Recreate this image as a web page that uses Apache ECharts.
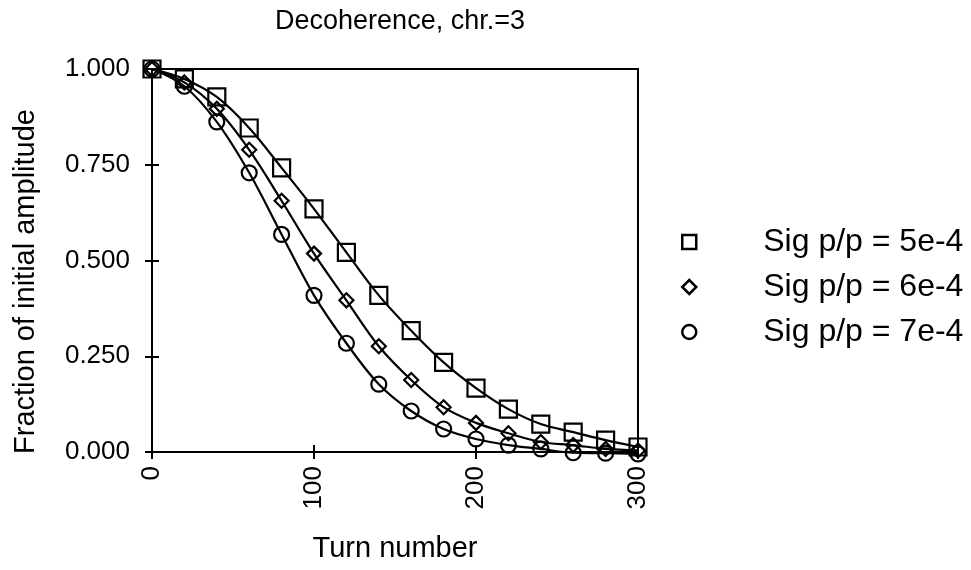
<!DOCTYPE html>
<html><head><meta charset="utf-8">
<script src="https://cdn.jsdelivr.net/npm/echarts@6/dist/echarts.min.js"></script>
<style>html,body{margin:0;padding:0;background:#fff}#c{width:971px;height:570px}</style>
</head><body><div id="c"></div>
<script>
const turns = [0,20,40,60,80,100,120,140,160,180,200,220,240,260,280,300];
const sig5 = [1.000,0.974,0.927,0.846,0.742,0.635,0.521,0.409,0.317,0.234,0.167,0.112,0.073,0.052,0.031,0.013];
const sig6 = [1.000,0.965,0.896,0.789,0.656,0.518,0.396,0.276,0.188,0.117,0.076,0.049,0.026,0.018,0.008,0.004];
const sig7 = [1.000,0.955,0.862,0.729,0.568,0.409,0.284,0.177,0.107,0.060,0.034,0.018,0.008,-0.002,-0.003,-0.005];
const seriesNames = ['Sig p/p = 5e-4','Sig p/p = 6e-4','Sig p/p = 7e-4'];
const yTicks = [0,0.25,0.5,0.75,1];
const xTicks = [0,100,200,300];

const FONT = 'Liberation Sans, Arial, sans-serif';
function pairs(ys){ return turns.map((t,i)=>[t,ys[i]]); }
function mk(name, ys, sym, size){
  return {
    name, type:'line', data:pairs(ys), smooth:0.35, clip:false,
    symbol:sym, symbolSize:size, showAllSymbol:true,
    lineStyle:{color:'#000',width:2.2},
    itemStyle:{color:'rgba(0,0,0,0)',borderColor:'#000',borderWidth:2.2},
    emphasis:{disabled:true}, animation:false
  };
}
const chart = echarts.init(document.getElementById('c'));
chart.setOption({
  animation:false,
  backgroundColor:'#fff',
  title:{text:'Decoherence, chr.=3',left:395,top:3,textAlign:'center',
    textStyle:{fontFamily:FONT,fontSize:27,fontWeight:'normal',color:'#000'}},
  grid:{left:152,right:333,top:69,bottom:118,show:true,borderColor:'#000',borderWidth:2,backgroundColor:'transparent'},
  legend:{
    orient:'vertical', left:676, top:221, itemGap:13,
    itemWidth:14, itemHeight:14,
    data:[{name:seriesNames[0],icon:'rect'},{name:seriesNames[1],icon:'diamond'},{name:seriesNames[2],icon:'circle'}],
    itemStyle:{color:'rgba(0,0,0,0)',borderColor:'#000',borderWidth:2.5},
    textStyle:{fontFamily:FONT,fontSize:32,color:'#000',padding:[0,0,0,62]}
  },
  xAxis:[{
    type:'value', min:0, max:300, interval:100,
    name:'Turn number', nameLocation:'middle', nameGap:82,
    nameTextStyle:{fontFamily:FONT,fontSize:29,color:'#000'},
    axisLine:{show:true,lineStyle:{color:'#000',width:2}},
    axisTick:{show:true,inside:true,length:7,lineStyle:{color:'#000',width:2}},
    axisLabel:{rotate:90,margin:14,fontFamily:FONT,fontSize:26,color:'#000'},
    splitLine:{show:false}
  },{
    type:'value', min:0, max:300, interval:100, position:'top',
    axisLine:{show:true,lineStyle:{color:'#000',width:2}},
    axisTick:{show:true,inside:true,length:7,lineStyle:{color:'#000',width:2}},
    axisLabel:{show:false}, splitLine:{show:false}
  }],
  yAxis:[{
    type:'value', min:0, max:1, interval:0.25,
    name:'Fraction of initial amplitude', nameLocation:'middle', nameGap:112,
    nameTextStyle:{fontFamily:FONT,fontSize:29,color:'#000',padding:[0,42,0,0]},
    axisLine:{show:true,lineStyle:{color:'#000',width:2}},
    axisTick:{show:true,inside:true,length:7,lineStyle:{color:'#000',width:2}},
    axisLabel:{margin:22,fontFamily:FONT,fontSize:26,color:'#000',formatter:v=>v.toFixed(3)},
    splitLine:{show:false}
  },{
    type:'value', min:0, max:1, interval:0.25, position:'right',
    axisLine:{show:true,lineStyle:{color:'#000',width:2}},
    axisTick:{show:true,inside:true,length:7,lineStyle:{color:'#000',width:2}},
    axisLabel:{show:false}, splitLine:{show:false}
  }],
  series:[
    mk(seriesNames[0], sig5, 'rect', 17),
    mk(seriesNames[1], sig6, 'diamond', 14),
    mk(seriesNames[2], sig7, 'circle', 15)
  ]
});
</script></body></html>
